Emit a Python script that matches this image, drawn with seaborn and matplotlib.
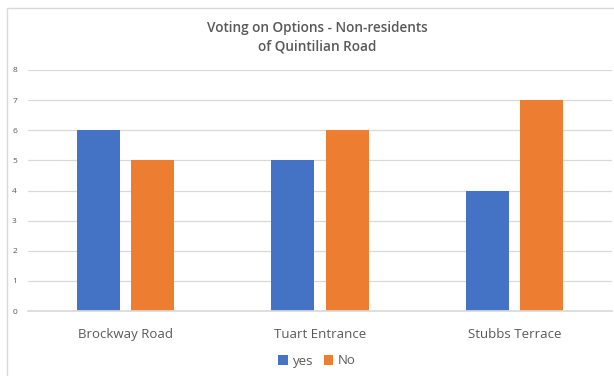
import matplotlib
matplotlib.use("Agg")
import matplotlib.pyplot as plt
from matplotlib.patches import Rectangle
import seaborn as sns
import pandas as pd

# Vote counts per road option
locations = ["Brockway Road", "Tuart Entrance", "Stubbs Terrace"]
yes_votes = [6, 5, 4]
no_votes = [5, 6, 7]
series_names = ["yes", "No"]
y_ticks = [0, 1, 2, 3, 4, 5, 6, 7, 8]

df = pd.DataFrame({
    "location": locations * 2,
    "votes": yes_votes + no_votes,
    "answer": [series_names[0]] * len(locations) + [series_names[1]] * len(locations),
})

sns.set_theme(style="white")
plt.rcParams["font.family"] = ["Open Sans", "DejaVu Sans"]

fig = plt.figure(figsize=(6.14, 3.76), dpi=100)
ax = fig.add_axes([28 / 614, 1 - 311 / 376, 584 / 614, 241 / 376])

sns.barplot(
    data=df, x="location", y="votes", hue="answer",
    palette=["#4472C4", "#ED7D31"], width=0.56, gap=0.21,
    saturation=1, linewidth=0, ax=ax, legend=True,
)

ax.set_ylim(0, 8)
ax.set_yticks(y_ticks)
ax.set_xlim(-0.5, len(locations) - 0.5)
ax.grid(axis="y", color="#d9d9d9", linewidth=0.9)
ax.set_axisbelow(True)
for s in ["top", "right", "left"]:
    ax.spines[s].set_visible(False)
ax.spines["bottom"].set_color("#d9d9d9")
ax.tick_params(axis="y", length=0, pad=8, labelsize=6, labelcolor="#595959")
ax.tick_params(axis="x", length=0, pad=12, labelsize=9.5, labelcolor="#595959")
ax.set_xlabel("")
ax.set_ylabel("")

ax.legend_.remove()
handles, labels = ax.get_legend_handles_labels()
fig.legend(
    handles, labels, loc="center", bbox_to_anchor=(317 / 614, 1 - 361 / 376),
    ncol=2, frameon=False, fontsize=9.5, handlelength=0.75, handleheight=0.75,
    handletextpad=0.35, columnspacing=0.8, labelcolor="#595959",
)

fig.text(
    317 / 614, 1 - 37 / 376, "Voting on Options - Non-residents\nof Quintilian Road",
    ha="center", va="center", fontsize=9.8, color="#595959",
    fontweight="semibold", linespacing=1.4,
)

# chart area frame
fig.patches.append(Rectangle(
    (7 / 614, -0.05), 1.1, 1 - 8 / 376 + 0.05, transform=fig.transFigure,
    fill=False, edgecolor="#d9d9d9", linewidth=1,
))

fig.savefig("out.png", dpi=100)
